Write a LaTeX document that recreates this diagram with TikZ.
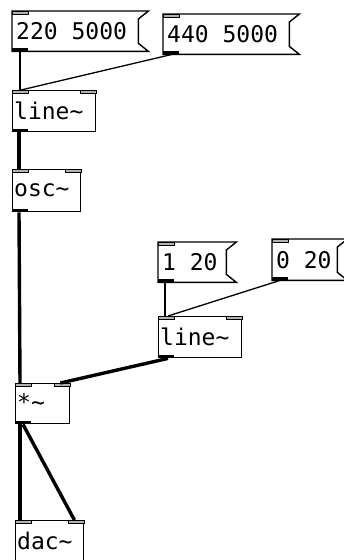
\documentclass[tikz,border=0pt]{standalone}
\usepackage{fontspec}
\newfontfamily\pdfont{DejaVu Sans Mono}
\usetikzlibrary{calc}
\begin{document}
\begin{tikzpicture}[x=1pt,y=-1pt,
  obj/.style={draw=black,line width=1.4pt,fill=white,rectangle,inner sep=0pt,anchor=north west},
  msg/.style={rectangle,inner sep=0pt,anchor=north west},
  msgshape/.style={draw=black,line width=1.4pt,fill=white,line join=miter},
  lbl/.style={anchor=west,inner sep=0pt,font=\pdfont\fontsize{23}{23}\selectfont},
  thinc/.style={line width=1.3pt},
  thickc/.style={line width=3.4pt},
  inlet/.style={fill=black!30,draw=black,line width=0.5pt},
  outlet/.style={fill=black}]
\useasboundingbox (0,0) rectangle (344,560);
\fill[white] (0,0) rectangle (344,560);

% message boxes
\node[msg,minimum width=126pt,minimum height=40pt] (m1) at (12,11) {};
\node[msg,minimum width=126pt,minimum height=40pt] (m2) at (163,14) {};
\node[msg,minimum width=68pt,minimum height=40pt] (m3) at (158,242) {};
\node[msg,minimum width=65pt,minimum height=41pt] (m4) at (272,239) {};
\foreach \m in {m1,m2,m3,m4}{
  \draw[msgshape] (\m.north west) -- ($(\m.north east)+(10,0)$) -- ($(\m.north east)+(0,8)$)
     -- ($(\m.south east)+(0,-8)$) -- ($(\m.south east)+(10,0)$) -- (\m.south west) -- cycle;
  \draw[inlet] (\m.north west) rectangle ++(16,3.5);
  \fill[outlet] (\m.south west) rectangle ++(16,-3.5);
}
\node[lbl] (m1t) at ($(m1.west)+(4,0)$) {220 5000};
\node[lbl] (m2t) at ($(m2.west)+(4,0)$) {440 5000};
\node[lbl] (m3t) at ($(m3.west)+(4,0)$) {1 20};
\node[lbl] (m4t) at ($(m4.west)+(4,0)$) {0 20};

% object boxes
\node[obj,minimum width=83pt,minimum height=41pt] (l1) at (12,90) {};
\node[obj,minimum width=68pt,minimum height=42pt] (osc) at (12,169) {};
\node[obj,minimum width=83pt,minimum height=41pt] (l2) at (158,316) {};
\node[obj,minimum width=54pt,minimum height=40pt] (mul) at (15,383) {};
\node[obj,minimum width=68pt,minimum height=50pt] (dac) at (15,520) {};
\foreach \o in {l1,osc,l2,mul,dac}{
  \draw[inlet] (\o.north west) rectangle ++(16,3.5);
  \draw[inlet] (\o.north east) rectangle ++(-16,3.5);
}
\foreach \o in {l1,osc,l2,mul}{
  \fill[outlet] (\o.south west) rectangle ++(16,-3.5);
}
\node[lbl] (l1t) at ($(l1.west)+(2,0)$) {line\char"7E};
\node[lbl] (osct) at ($(osc.west)+(2,0)$) {osc\char"7E};
\node[lbl] (l2t) at ($(l2.west)+(2,0)$) {line\char"7E};
\node[lbl] (mult) at ($(mul.west)+(2,-2)$) {*\char"7E};
\node[lbl] (dact) at ($(dac.north west)+(2,21)$) {dac\char"7E};

% connections
\draw[thinc] ($(m1.south west)+(8,0)$) -- ($(l1.north west)+(8,0)$);
\draw[thinc] ($(m2.south west)+(9,0)$) -- ($(l1.north west)+(9,0)$);
\draw[thickc] ($(l1.south west)+(7,0)$) -- ($(osc.north west)+(7,0)$);
\draw[thickc] ($(osc.south west)+(7,0)$) -- ($(mul.north west)+(5,0)$);
\draw[thinc] ($(m3.south west)+(7,0)$) -- ($(l2.north west)+(7,0)$);
\draw[thinc] ($(m4.south west)+(8,0)$) -- ($(l2.north west)+(10,0)$);
\draw[thickc] ($(l2.south west)+(10,0)$) -- ($(mul.north east)+(-10,0)$);
\draw[thickc] ($(mul.south west)+(5,0)$) -- ($(dac.north west)+(5,0)$);
\draw[thickc] ($(mul.south west)+(8,0)$) -- ($(dac.north east)+(-10,0)$);
\end{tikzpicture}
\end{document}
